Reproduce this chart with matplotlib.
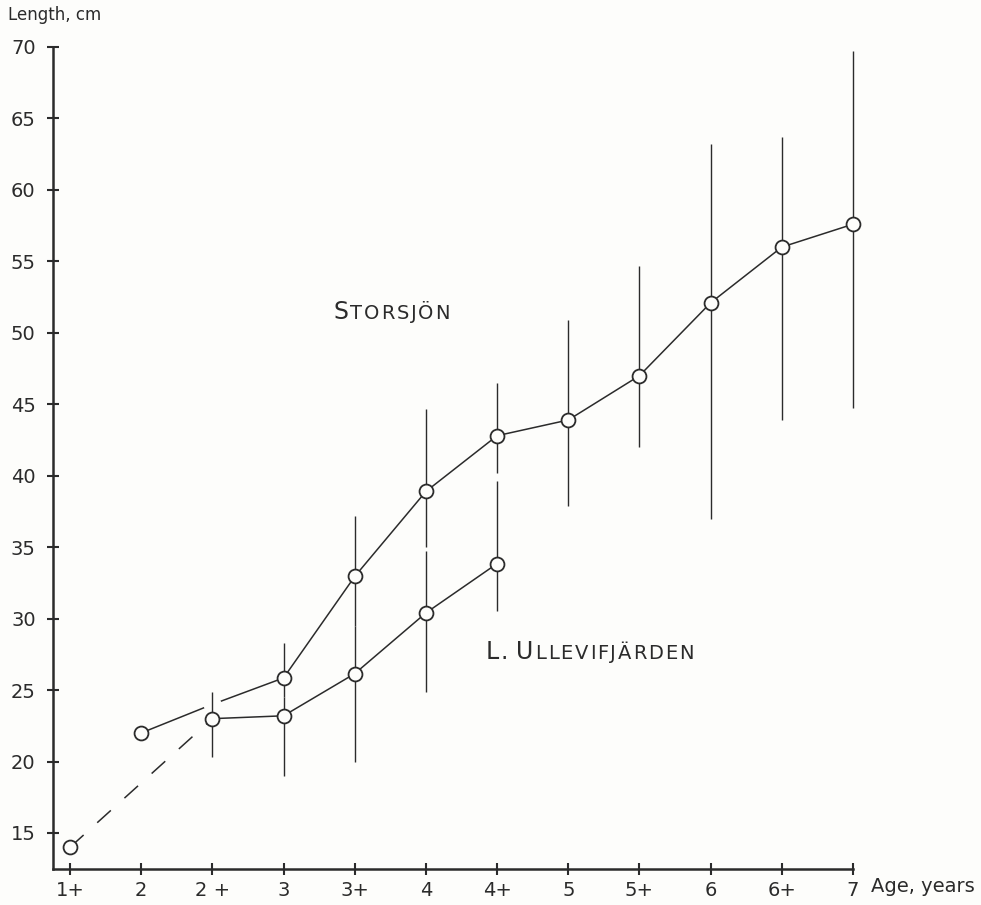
import matplotlib
matplotlib.use("Agg")
import matplotlib.pyplot as plt
import numpy as np
from matplotlib.offsetbox import TextArea, HPacker, AnnotationBbox

# ---- data ----
age_labels = ["1+", "2", "2 +", "3", "3+", "4", "4+", "5", "5+", "6", "6+", "7"]

# Storsjön mean length (cm); None = no value. Value at "2 +" is an unmarked bend of the line
stor_mean = [None, 22.0, 24.0, 25.85, 32.95, 38.9, 42.8, 43.9, 47.0, 52.1, 56.0, 57.6]
stor_marked = [False, True, False, True, True, True, True, True, True, True, True, True]
stor_lo = [None, None, None, 24.5, 29.5, 35.0, 40.2, 37.85, 42.0, 37.0, 43.9, 44.75]
stor_hi = [None, None, None, 28.3, 37.2, 44.7, 46.5, 50.9, 54.7, 63.2, 63.7, 69.7]

# L. Ullevifjärden mean length (cm)
ulle_mean = [14.0, None, 23.0, 23.2, 26.15, 30.4, 33.85, None, None, None, None, None]
ulle_lo = [None, None, 20.3, 19.0, 20.0, 24.9, 30.5, None, None, None, None, None]
ulle_hi = [None, None, 24.9, 24.5, 29.5, 34.7, 39.6, None, None, None, None, None]

y_ticks = [15, 20, 25, 30, 35, 40, 45, 50, 55, 60, 65, 70]

ink = "#2b2b2b"
bg = "#fdfdfb"

fig = plt.figure(figsize=(9.81, 9.05), dpi=100, facecolor=bg)
ax = fig.add_axes([53/981, 36/905, 800/981, 822/905])
ax.set_facecolor(bg)

x = np.arange(len(age_labels))

def arr(v):
    return np.array([np.nan if a is None else a for a in v], dtype=float)

sm, sl, sh = arr(stor_mean), arr(stor_lo), arr(stor_hi)
um, ul, uh = arr(ulle_mean), arr(ulle_lo), arr(ulle_hi)

# Storsjön line
ok = ~np.isnan(sm)
ax.plot(x[ok], sm[ok], color=ink, lw=1.1, zorder=2, clip_on=False)
# gap in the line where it crosses the 2+ bar
unm = ok & ~np.array(stor_marked)
ax.plot(x[unm], sm[unm], linestyle="none", marker="o", markersize=12,
        markerfacecolor=bg, markeredgecolor=bg, zorder=2.5)

# Ullevifjärden: dashed from 1+ to 2+, solid afterwards
okU = ~np.isnan(um)
idxU = x[okU]
ax.plot(idxU[:2], um[okU][:2], color=ink, lw=1.1, linestyle=(0, (12, 12)), zorder=2)
ax.plot(idxU[1:], um[okU][1:], color=ink, lw=1.1, zorder=2)

# range bars
okb = ~np.isnan(sl)
ax.vlines(x[okb], sl[okb], sh[okb], color=ink, lw=1.0, zorder=3, clip_on=False)
okb = ~np.isnan(ul)
ax.vlines(x[okb], ul[okb], uh[okb], color=ink, lw=1.0, zorder=3, clip_on=False)

# open circle markers
mk = ok & np.array(stor_marked)
ax.plot(x[mk], sm[mk], linestyle="none", marker="o", markersize=10, clip_on=False,
        markerfacecolor=bg, markeredgecolor=ink, markeredgewidth=1.3, zorder=4)
ax.plot(x[okU], um[okU], linestyle="none", marker="o", markersize=10, clip_on=False,
        markerfacecolor=bg, markeredgecolor=ink, markeredgewidth=1.3, zorder=4)

# axes
ax.set_xlim(-0.239, 11)
ax.set_ylim(12.48, 70)
for s in ["top", "right"]:
    ax.spines[s].set_visible(False)
for s in ["left", "bottom"]:
    ax.spines[s].set_linewidth(1.8)
    ax.spines[s].set_color(ink)
ax.set_xticks(x)
ax.set_xticklabels(age_labels)
ax.set_yticks(y_ticks)
ax.set_yticklabels([str(t) for t in y_ticks])
ax.tick_params(axis="both", direction="inout", length=9, width=1.5, color=ink,
               labelcolor=ink, labelsize=14)
ax.tick_params(axis="y", pad=8)
ax.tick_params(axis="x", pad=4)

fig.text(8/981, 1 - 20/905, "Length, cm", fontsize=12, color=ink, ha="left", va="baseline")
ax.annotate("Age, years", xy=(1, 0), xycoords="axes fraction", xytext=(13, -6),
            textcoords="offset points", ha="left", va="top", fontsize=14, color=ink)

def smallcaps(parts, xy):
    boxes = []
    for t, fs in parts:
        for ch in t:
            boxes.append(TextArea(ch, textprops=dict(fontsize=fs, color=ink)))
    pack = HPacker(children=boxes, align="baseline", pad=0, sep=1.3)
    ab = AnnotationBbox(pack, xy, xycoords="data", frameon=False, box_alignment=(0.5, 0.0))
    ax.add_artist(ab)

smallcaps([("S", 17), ("TORSJÖN", 14)], (4.52, 50.6))
smallcaps([("L.", 17), (" ", 10), ("U", 17), ("LLEVIFJÄRDEN", 14)], (7.3, 26.8))

fig.savefig("out.png", dpi=100, facecolor=bg)
